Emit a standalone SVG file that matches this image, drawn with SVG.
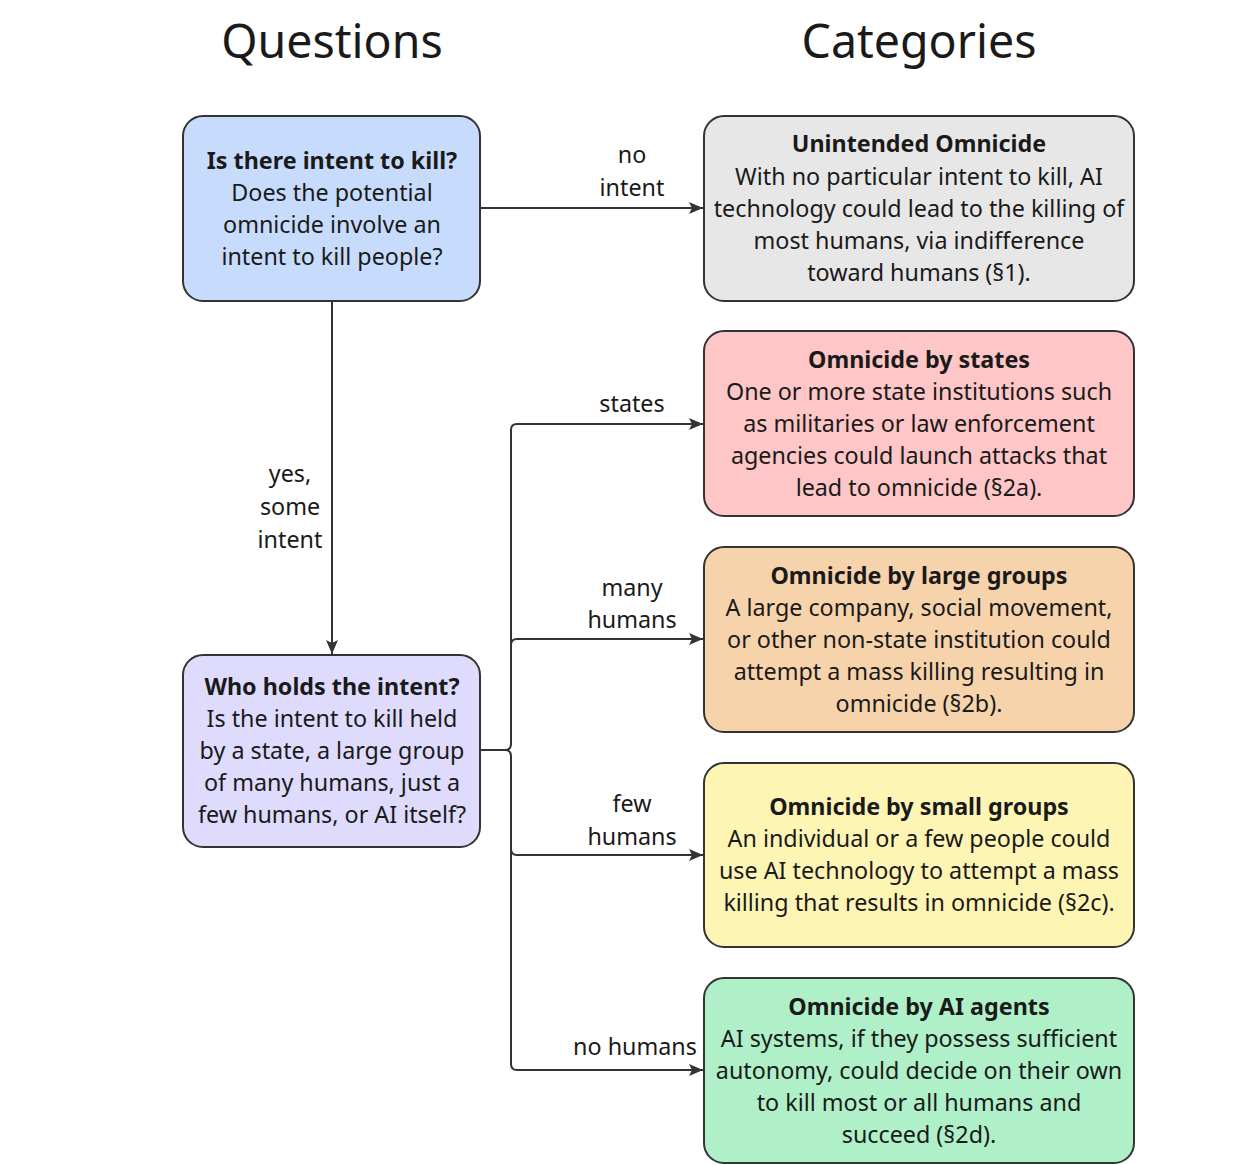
<svg xmlns="http://www.w3.org/2000/svg" width="1234" height="1165" viewBox="0 0 1234 1165">
<style>
.box{stroke:#333;stroke-width:2}
.t{font-family:"Noto Sans","Open Sans",sans-serif;font-size:23.3px;fill:#1a1a1a;text-anchor:middle}
.b{font-weight:bold}
.h{font-family:"Noto Sans","Open Sans",sans-serif;font-size:46.5px;fill:#1a1a1a;text-anchor:middle}
.c{fill:none;stroke:#333;stroke-width:2}
</style>
<defs>
<marker id="arr" viewBox="0 0 14 12" refX="14" refY="6" markerWidth="14" markerHeight="12" markerUnits="userSpaceOnUse" orient="auto">
<path d="M0,0 L14,6 L0,12 L3,6 Z" fill="#333"/>
</marker>
</defs>
<rect width="1234" height="1165" fill="#fff"/>
<text class="h" x="332" y="58">Questions</text>
<text class="h" x="919" y="58">Categories</text>

<g id="connectors">
<path class="c" d="M480,208 H703" marker-end="url(#arr)"/>
<path class="c" d="M332,301 V654" marker-end="url(#arr)"/>
<path class="c" d="M480,750 H505 Q511,750 511,744 V430 Q511,424 517,424 H703" marker-end="url(#arr)"/>
<path class="c" d="M511,645 Q511,639 517,639 H703" marker-end="url(#arr)"/>
<path class="c" d="M505,750 Q511,750 511,756 V1064 Q511,1070 517,1070 H703" marker-end="url(#arr)"/>
<path class="c" d="M511,849 Q511,855 517,855 H703" marker-end="url(#arr)"/>
<text class="t" x="632" y="163">no</text>
<text class="t" x="632" y="196">intent</text>
<text class="t" x="632" y="412">states</text>
<text class="t" x="632" y="596">many</text>
<text class="t" x="632" y="628">humans</text>
<text class="t" x="632" y="812">few</text>
<text class="t" x="632" y="845">humans</text>
<text class="t" x="635" y="1055">no humans</text>
<text class="t" x="290" y="482">yes,</text>
<text class="t" x="290" y="515">some</text>
<text class="t" x="290" y="548">intent</text>
</g>

<g id="q1">
<rect class="box" x="183" y="116" width="297" height="185" rx="20" fill="#c7dcfc"/>
<text class="t b" x="332" y="169">Is there intent to kill?</text>
<text class="t" x="332" y="201">Does the potential</text>
<text class="t" x="332" y="233">omnicide involve an</text>
<text class="t" x="332" y="265">intent to kill people?</text>
</g>

<g id="q2">
<rect class="box" x="183" y="655" width="297" height="192" rx="20" fill="#dedbfc"/>
<text class="t b" x="332" y="695">Who holds the intent?</text>
<text class="t" x="332" y="727">Is the intent to kill held</text>
<text class="t" x="332" y="759">by a state, a large group</text>
<text class="t" x="332" y="791">of many humans, just a</text>
<text class="t" x="332" y="823">few humans, or AI itself?</text>
</g>

<g id="c1">
<rect class="box" x="704" y="116" width="430" height="185" rx="20" fill="#e7e7e7"/>
<text class="t b" x="919" y="152">Unintended Omnicide</text>
<text class="t" x="919" y="185">With no particular intent to kill, AI</text>
<text class="t" x="919" y="217">technology could lead to the killing of</text>
<text class="t" x="919" y="249">most humans, via indifference</text>
<text class="t" x="919" y="281">toward humans (§1).</text>
</g>

<g id="c2">
<rect class="box" x="704" y="331" width="430" height="185" rx="20" fill="#fec6c6"/>
<text class="t b" x="919" y="368">Omnicide by states</text>
<text class="t" x="919" y="400">One or more state institutions such</text>
<text class="t" x="919" y="432">as militaries or law enforcement</text>
<text class="t" x="919" y="464">agencies could launch attacks that</text>
<text class="t" x="919" y="496">lead to omnicide (§2a).</text>
</g>

<g id="c3">
<rect class="box" x="704" y="547" width="430" height="185" rx="20" fill="#f7d3ac"/>
<text class="t b" x="919" y="584">Omnicide by large groups</text>
<text class="t" x="919" y="616">A large company, social movement,</text>
<text class="t" x="919" y="648">or other non-state institution could</text>
<text class="t" x="919" y="680">attempt a mass killing resulting in</text>
<text class="t" x="919" y="712">omnicide (§2b).</text>
</g>

<g id="c4">
<rect class="box" x="704" y="763" width="430" height="184" rx="20" fill="#fef5b5"/>
<text class="t b" x="919" y="815">Omnicide by small groups</text>
<text class="t" x="919" y="847">An individual or a few people could</text>
<text class="t" x="919" y="879">use AI technology to attempt a mass</text>
<text class="t" x="919" y="911">killing that results in omnicide (§2c).</text>
</g>

<g id="c5">
<rect class="box" x="704" y="978" width="430" height="185" rx="20" fill="#aff0c9"/>
<text class="t b" x="919" y="1015">Omnicide by AI agents</text>
<text class="t" x="919" y="1047">AI systems, if they possess sufficient</text>
<text class="t" x="919" y="1079">autonomy, could decide on their own</text>
<text class="t" x="919" y="1111">to kill most or all humans and</text>
<text class="t" x="919" y="1143">succeed (§2d).</text>
</g>
</svg>
